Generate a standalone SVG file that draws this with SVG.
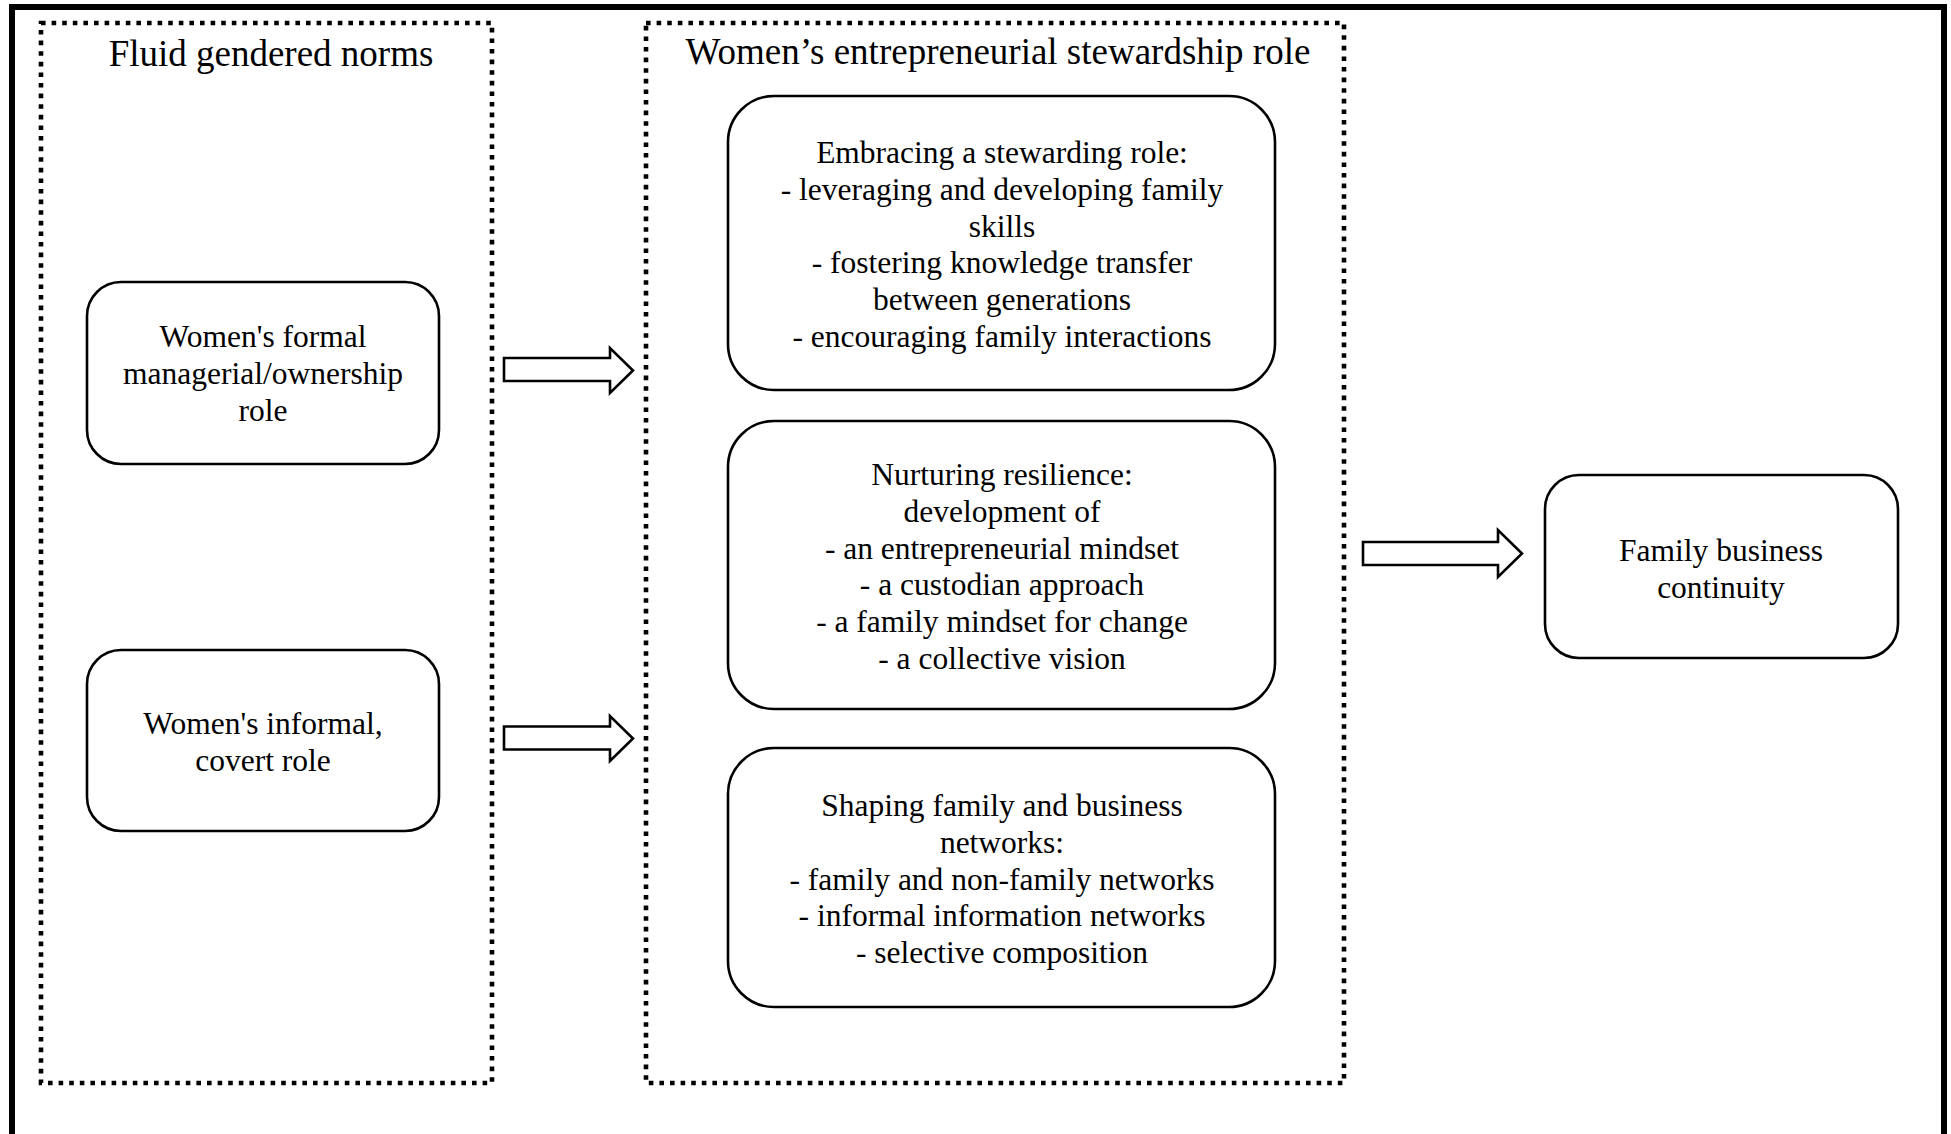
<svg xmlns="http://www.w3.org/2000/svg" width="1951" height="1134" viewBox="0 0 1951 1134">
<style>
.frame{fill:none;stroke:#000;stroke-width:6}
.dot{fill:none;stroke:#000;stroke-width:4.6;stroke-dasharray:4.6 6}
.box{fill:#fff;stroke:#000;stroke-width:2.6}
.arr{fill:#fff;stroke:#000;stroke-width:2.6;stroke-linejoin:miter}
text{font-family:"Liberation Serif","Times New Roman",serif;fill:#000;text-anchor:middle}
.t{font-size:37px}
.b{font-size:31.5px}
</style>
<rect width="1951" height="1134" fill="#fff"/>
<path class="frame" d="M12,1140 V7 H1944 V1140"/>
<g id="group-fluid">
<rect class="dot" x="41" y="23" width="451" height="1060"/>
<text class="t" x="271" y="66">Fluid gendered norms</text>
</g>
<g id="group-stewardship">
<rect class="dot" x="646" y="23" width="698" height="1060"/>
<text class="t" x="998" y="64">Women’s entrepreneurial stewardship role</text>
</g>
<g id="node-formal">
<rect class="box" x="87" y="282" width="352" height="182" rx="34"/>
<text class="b" x="263" y="347">Women's formal</text>
<text class="b" x="263" y="384">managerial/ownership</text>
<text class="b" x="263" y="421">role</text>
</g>
<g id="node-informal">
<rect class="box" x="87" y="650" width="352" height="181" rx="34"/>
<text class="b" x="263" y="734">Women's informal,</text>
<text class="b" x="263" y="771">covert role</text>
</g>
<g id="node-embracing">
<rect class="box" x="728" y="96" width="547" height="294" rx="46"/>
<text class="b" x="1002" y="163">Embracing a stewarding role:</text>
<text class="b" x="1002" y="200">- leveraging and developing family</text>
<text class="b" x="1002" y="237">skills</text>
<text class="b" x="1002" y="273">- fostering knowledge transfer</text>
<text class="b" x="1002" y="310">between generations</text>
<text class="b" x="1002" y="347">- encouraging family interactions</text>
</g>
<g id="node-resilience">
<rect class="box" x="728" y="421" width="547" height="288" rx="46"/>
<text class="b" x="1002" y="485">Nurturing resilience:</text>
<text class="b" x="1002" y="522">development of</text>
<text class="b" x="1002" y="559">- an entrepreneurial mindset</text>
<text class="b" x="1002" y="595">- a custodian approach</text>
<text class="b" x="1002" y="632">- a family mindset for change</text>
<text class="b" x="1002" y="669">- a collective vision</text>
</g>
<g id="node-networks">
<rect class="box" x="728" y="748" width="547" height="259" rx="46"/>
<text class="b" x="1002" y="816">Shaping family and business</text>
<text class="b" x="1002" y="853">networks:</text>
<text class="b" x="1002" y="890">- family and non-family networks</text>
<text class="b" x="1002" y="926">- informal information networks</text>
<text class="b" x="1002" y="963">- selective composition</text>
</g>
<g id="node-continuity">
<rect class="box" x="1545" y="475" width="353" height="183" rx="34"/>
<text class="b" x="1721" y="561">Family business</text>
<text class="b" x="1721" y="598">continuity</text>
</g>
<g id="connectors">
<path class="arr" d="M504,358 H610 V348 L633,370.5 L610,393 V381 H504 Z"/>
<path class="arr" d="M504,726.5 H610 V716 L633,738.5 L610,761 V749.5 H504 Z"/>
<path class="arr" d="M1363,542 H1498 V530 L1522,553.5 L1498,577 V565 H1363 Z"/>
</g>
</svg>
